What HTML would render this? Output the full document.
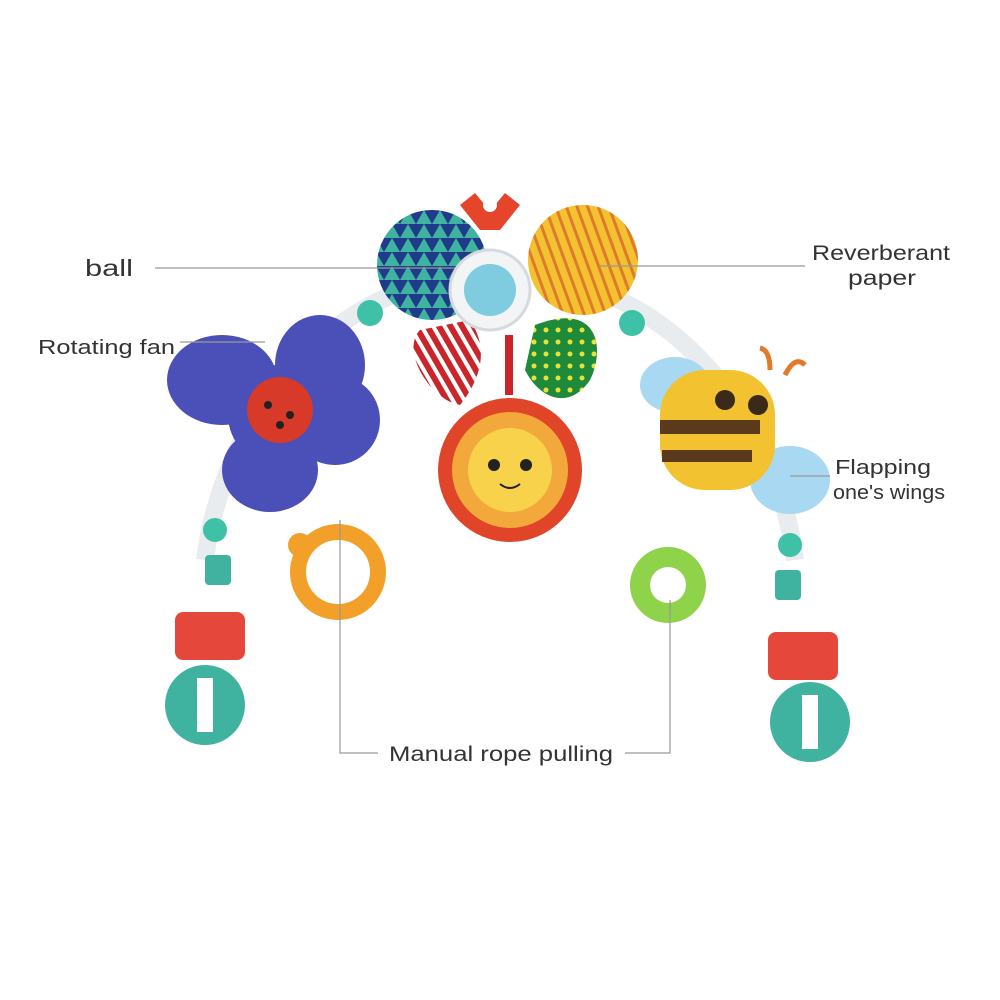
<!DOCTYPE html>
<html><head><meta charset="utf-8"><style>
html,body{margin:0;padding:0;background:#fff;}
svg{display:block}
text{font-family:"Liberation Sans",sans-serif;fill:#333;}
</style></head><body>
<svg width="1000" height="1000" viewBox="0 0 1000 1000" xmlns="http://www.w3.org/2000/svg">
<defs>
<pattern id="tri" width="16" height="14" patternUnits="userSpaceOnUse">
<rect width="16" height="14" fill="#1f3b8a"/><polygon points="0,14 8,0 16,14" fill="#3fb3a0"/></pattern>
<pattern id="ys" width="10" height="10" patternUnits="userSpaceOnUse" patternTransform="rotate(-20)">
<rect width="10" height="10" fill="#f2c230"/><rect width="3" height="10" fill="#e07a2a"/></pattern>
<pattern id="rs" width="10" height="10" patternUnits="userSpaceOnUse" patternTransform="rotate(-30)">
<rect width="10" height="10" fill="#c9252b"/><rect width="4" height="10" fill="#fff"/></pattern>
<pattern id="gd" width="12" height="12" patternUnits="userSpaceOnUse">
<rect width="12" height="12" fill="#1e8a3a"/><circle cx="6" cy="6" r="2.5" fill="#e8e23a"/></pattern>
</defs>

<path d="M205,560 C220,440 300,320 420,285 M580,285 C700,320 780,440 795,560" stroke="#e8ecef" stroke-width="18" fill="none"/>
<circle cx="370" cy="313" r="13" fill="#3fc1a8"/><circle cx="632" cy="323" r="13" fill="#3fc1a8"/>
<circle cx="215" cy="530" r="12" fill="#3fc1a8"/><circle cx="790" cy="545" r="12" fill="#3fc1a8"/>
<rect x="205" y="555" width="26" height="30" rx="4" fill="#3fb3a0"/>
<rect x="775" y="570" width="26" height="30" rx="4" fill="#3fb3a0"/>

<path d="M480,230 l-20,-25 l15,-12 l15,18 l15,-18 l15,12 l-20,25z" fill="#e5452a"/>
<circle cx="490" cy="205" r="7" fill="#fff"/>
<circle cx="432" cy="265" r="55" fill="url(#tri)"/>
<circle cx="583" cy="260" r="55" fill="url(#ys)"/>
<path d="M420,330 C400,350 430,400 460,405 C480,380 490,350 470,320z" fill="url(#rs)"/>
<path d="M535,325 C600,300 605,350 590,380 C570,410 540,400 525,370z" fill="url(#gd)"/>
<circle cx="490" cy="290" r="40" fill="#f2f4f6" stroke="#d6dade" stroke-width="3"/>
<circle cx="490" cy="290" r="26" fill="#7fcbe0"/>
<rect x="505" y="335" width="8" height="60" fill="#c9252b"/>

<circle cx="510" cy="470" r="72" fill="#e0452a"/>
<circle cx="510" cy="470" r="58" fill="#f2a83a"/>
<circle cx="510" cy="470" r="42" fill="#f7d24a"/>
<circle cx="494" cy="465" r="6" fill="#222"/><circle cx="526" cy="465" r="6" fill="#222"/>
<path d="M500,484 q10,8 20,0" stroke="#222" stroke-width="2" fill="none"/>

<g fill="#4b4fb8">
<ellipse cx="222" cy="380" rx="55" ry="45"/><ellipse cx="320" cy="365" rx="45" ry="50"/>
<ellipse cx="270" cy="470" rx="48" ry="42"/><ellipse cx="335" cy="420" rx="45" ry="45"/>
<circle cx="278" cy="415" r="50"/></g>
<circle cx="280" cy="410" r="33" fill="#d83a2a"/>
<circle cx="268" cy="405" r="4" fill="#222"/><circle cx="290" cy="415" r="4" fill="#222"/><circle cx="280" cy="425" r="4" fill="#222"/>

<ellipse cx="675" cy="385" rx="35" ry="28" fill="#a9d8f2"/>
<ellipse cx="790" cy="480" rx="40" ry="34" fill="#a9d8f2"/>
<rect x="660" y="370" width="115" height="120" rx="45" fill="#f2c230"/>
<rect x="660" y="420" width="100" height="14" fill="#5a3a1a"/>
<rect x="662" y="450" width="90" height="12" fill="#5a3a1a"/>
<circle cx="725" cy="400" r="10" fill="#3a2a1a"/><circle cx="758" cy="405" r="10" fill="#3a2a1a"/>
<path d="M770,370 q0,-20 -10,-22 M785,375 q10,-20 20,-10" stroke="#e27a2a" stroke-width="5" fill="none"/>

<circle cx="338" cy="572" r="40" fill="none" stroke="#f2a02a" stroke-width="16"/>
<circle cx="300" cy="545" r="12" fill="#f2a02a"/>
<circle cx="668" cy="585" r="38" fill="#8ed34a"/>
<circle cx="668" cy="585" r="18" fill="#fff"/>

<rect x="175" y="612" width="70" height="48" rx="8" fill="#e5483a"/>
<circle cx="205" cy="705" r="40" fill="#3fb3a0"/><rect x="197" y="678" width="16" height="54" fill="#fff"/>
<rect x="768" y="632" width="70" height="48" rx="8" fill="#e5483a"/>
<circle cx="810" cy="722" r="40" fill="#3fb3a0"/><rect x="802" y="695" width="16" height="54" fill="#fff"/>

<g stroke="#999" stroke-width="1.2" fill="none">
<line x1="155" y1="268" x2="455" y2="268"/>
<line x1="600" y1="266" x2="805" y2="266"/>
<line x1="180" y1="342" x2="265" y2="342"/>
<line x1="790" y1="476" x2="830" y2="476"/>
<polyline points="340,520 340,753 378,753"/>
<polyline points="670,600 670,753 625,753"/>
</g>
<text x="85" y="276" font-size="23" textLength="48" lengthAdjust="spacingAndGlyphs">ball</text>
<text x="812" y="260" font-size="21" textLength="138" lengthAdjust="spacingAndGlyphs">Reverberant</text>
<text x="848" y="285" font-size="21" textLength="68" lengthAdjust="spacingAndGlyphs">paper</text>
<text x="38" y="354" font-size="20" textLength="137" lengthAdjust="spacingAndGlyphs">Rotating fan</text>
<text x="835" y="474" font-size="20" textLength="96" lengthAdjust="spacingAndGlyphs">Flapping</text>
<text x="833" y="499" font-size="20" textLength="112" lengthAdjust="spacingAndGlyphs">one's wings</text>
<text x="389" y="761" font-size="21" textLength="224" lengthAdjust="spacingAndGlyphs">Manual rope pulling</text>
</svg>
</body></html>
